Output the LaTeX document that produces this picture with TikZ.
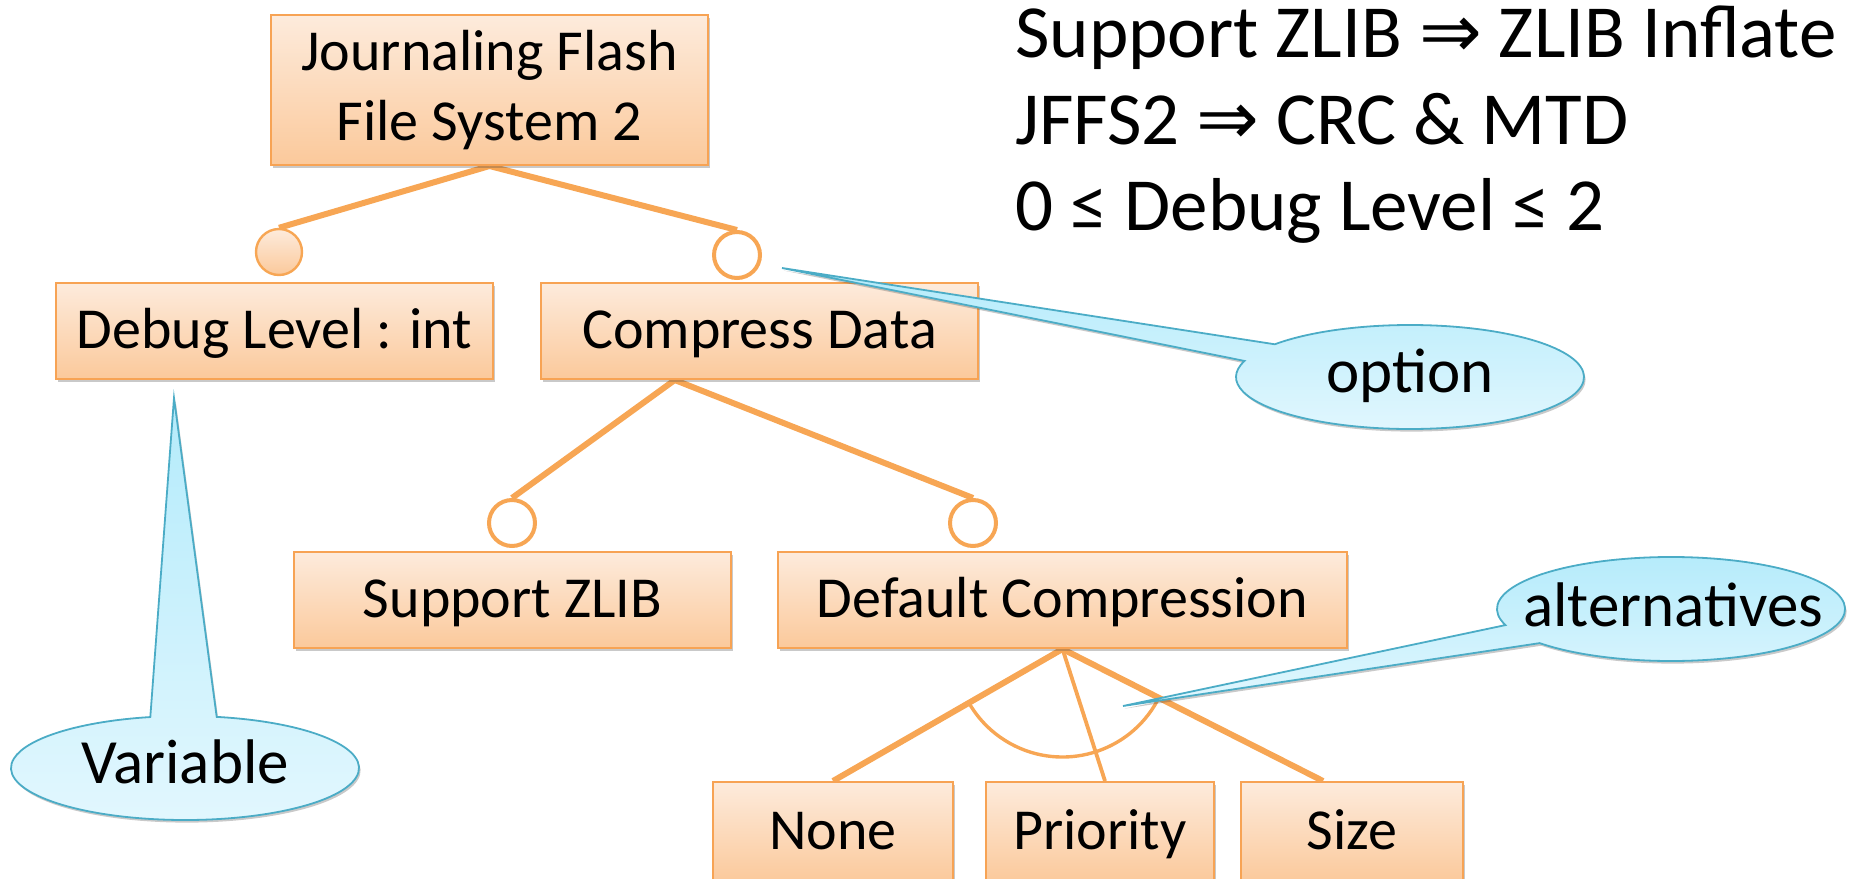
\documentclass[tikz,border=0pt]{standalone}
\usepackage{fontspec}
\setmainfont{Carlito}
\newfontfamily\symfont{DejaVu Sans}
\usetikzlibrary{shadows,calc,backgrounds}
\definecolor{boxtop}{RGB}{253,235,220}
\definecolor{boxbot}{RGB}{251,201,155}
\definecolor{boxline}{RGB}{247,163,84}
\definecolor{conn}{RGB}{247,166,84}
\definecolor{caltop}{RGB}{180,235,251}
\definecolor{calbot}{RGB}{226,247,254}
\definecolor{calline}{RGB}{75,172,198}
\tikzset{
  shadowed/.style={drop shadow={shadow xshift=0.8pt, shadow yshift=-1.3pt, opacity=0.3, fill=black!70}},
  featbox/.style={rectangle, draw=boxline, line width=1pt, top color=boxtop, bottom color=boxbot,
    inner sep=0pt, font=\fontsize{29}{35}\selectfont, shadowed},
  feat/.style={featbox, minimum height=48pt, text height=21.7pt, text depth=3.8pt},
  optc/.style={circle, draw=conn, line width=2pt, fill=white, minimum size=23pt, inner sep=0pt},
  mandc/.style={circle, draw=conn, line width=1.2pt, top color=boxtop, bottom color=boxbot, minimum size=23pt, inner sep=0pt},
  conline/.style={draw=conn, line width=3pt},
  callout/.style={draw=calline, line width=0.9pt, top color=caltop, bottom color=calbot, shadowed},
  caltext/.style={font=\fontsize{31.5}{38}\selectfont, anchor=base, inner sep=0pt},
  cons/.style={font=\fontsize{37.5}{45}\selectfont, anchor=base west, inner sep=0pt},
}
\begin{document}
\begin{tikzpicture}[x=0.5pt,y=-0.5pt]
\useasboundingbox (0,0) rectangle (1857,878);

% constraints
\node[cons] (c1) at (1015,57) {Support ZLIB {\symfont ⇒} ZLIB Inflate};
\node[cons] (c2) at (1015,144) {JFFS2 {\symfont ⇒} CRC \& MTD};
\node[cons] (c3) at (1015,230) {0 ≤ Debug Level ≤ 2};

% feature boxes
\node[featbox, minimum width=218.5pt, minimum height=75pt, align=center] (jffs) at (489.5,90) {Journaling Flash\\File System 2};
\node[feat, minimum width=218.5pt] (debug) at (274.5,331) {Debug Level : int};
\node[feat, minimum width=218.5pt] (comp) at (759.5,331) {Compress Data};
\node[feat, minimum width=218.5pt] (zlib) at (512.5,600) {Support ZLIB};
\node[feat, minimum width=284.5pt] (defc) at (1062.5,600) {Default Compression};
\node[feat, minimum width=120pt, minimum height=50pt] (none) at (833,832) {None};
\node[feat, minimum width=114pt, minimum height=50pt] (prio) at (1100,832) {Priority};
\node[feat, minimum width=111pt, minimum height=50pt] (size) at (1352,832) {Size};

% circles
\node[mandc] (dc) at (279,252) {};
\node[optc] (cc) at (737,255) {};
\node[optc] (zc) at (512,523) {};
\node[optc] (dfc) at (973,523) {};

% connectors
\begin{scope}[on background layer]
\draw[conline] (jffs.south) -- (dc.north);
\draw[conline] (jffs.south) -- (cc.north);
\coordinate (capex) at ($(comp.south west)!0.307!(comp.south east)$);
\draw[conline] (capex) -- (zc.north);
\draw[conline] (capex) -- (dfc.north);
\coordinate (apex) at (defc.south);
\draw[conline] (apex) -- (none.north);
\draw[conline, line width=1.9pt] (apex) -- ($(prio.north)+(5,0)$);
\draw[conline] (apex) -- ($(size.north)+(-29,0)$);
\draw[draw=conn, line width=1.7pt] ($(apex)+(26:108)$) arc[start angle=26, end angle=150, radius=108];
\end{scope}

% callouts
\coordinate (vcen) at (185,768);
\coordinate (vtip) at (174,398);
\path[callout] (vtip) -- ($(vcen)+(280.5:174 and 52)$) arc[start angle=280.5, end angle=618.5, x radius=174, y radius=52] -- cycle;
\node[caltext] (vtxt) at (185,783) {Variable};

\coordinate (ocen) at (1410,377);
\coordinate (otip) at (782,268);
\path[callout] (otip) -- ($(ocen)+(219:174 and 52)$) arc[start angle=219, end angle=558, x radius=174, y radius=52] -- cycle;
\node[caltext] (otxt) at (1410,392) {option};

\coordinate (acen) at (1671,609);
\coordinate (atip) at (1123,706);
\path[callout] (atip) -- ($(acen)+(162:174 and 52)$) arc[start angle=162, end angle=499, x radius=174, y radius=52] -- cycle;
\node[caltext] (atxt) at (1673,626) {alternatives};
\end{tikzpicture}
\end{document}
